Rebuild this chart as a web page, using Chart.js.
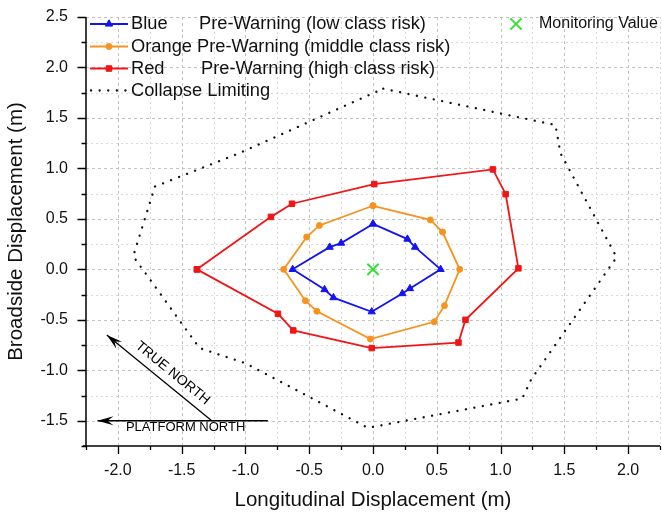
<!DOCTYPE html>
<html>
<head>
<meta charset="utf-8">
<title>Pre-warning polygons</title>
<script src="https://cdn.jsdelivr.net/npm/chart.js@4.4.1/dist/chart.umd.min.js"></script>
<style>
    html, body { margin: 0; padding: 0; background: #fff; }
    #wrap { position: relative; width: 662px; height: 517px; }
    #grid { position: absolute; left: 0; top: 0; display: block; }
    #chart { position: relative; z-index: 1; display: block; }
</style>
</head>
<body>
<div id="wrap">
    <canvas id="grid" width="662" height="517"></canvas>
    <canvas id="chart" width="662" height="517"></canvas>
</div>
<script>
// Data (metres), polygons closed on the first point
const blueX = [0, 0.27, 0.33, 0.53, 0.29, 0.23, -0.01, -0.31, -0.38, -0.63, -0.34, -0.25, 0];
const blueY = [0.45, 0.30, 0.22, 0.0, -0.19, -0.24, -0.42, -0.28, -0.20, 0.0, 0.22, 0.26, 0.45];

const orangeX = [0, 0.45, 0.545, 0.68, 0.56, 0.48, -0.02, -0.44, -0.53, -0.70, -0.52, -0.42, 0];
const orangeY = [0.63, 0.49, 0.37, 0.0, -0.36, -0.52, -0.69, -0.415, -0.31, 0.0, 0.32, 0.435, 0.63];

const redX = [-1.38, -0.80, -0.635, 0.01, 0.94, 1.04, 1.14, 0.725, 0.67, -0.01, -0.625, -0.745, -1.38];
const redY = [0.0, 0.52, 0.65, 0.845, 0.99, 0.745, 0.01, -0.50, -0.725, -0.78, -0.605, -0.44, 0.0];

const collapseX = [0.08, 1.43, 1.47, 1.91, 1.24, 1.17, -0.04, -1.0, -1.36, -1.88, -1.71, -1.05, 0.08];
const collapseY = [1.79, 1.43, 1.15, 0.12, -1.09, -1.28, -1.57, -0.93, -0.78, 0.13, 0.82, 1.15, 1.79];

const monitorX = [0];
const monitorY = [0];

// Axes
const xRange = [-2.25, 2.25];
const yRange = [-1.75, 2.5];
const minorStep = 0.25;
const majorStep = 0.5;

const FONT = "'Liberation Sans', Arial, sans-serif";
const INK = '#111';
const BLUE = '#1414f0';
const ORANGE = '#f8921e';
const RED = '#f01616';
const GREEN = '#36e036';

function toPoints(xs, ys) {
    return xs.map((x, i) => ({ x: x, y: ys[i] }));
}

function isMajor(v) {
    return Math.abs(v / majorStep - Math.round(v / majorStep)) < 1e-6;
}

function tickLabel(v) {
    return isMajor(v) ? (Math.abs(v) < 1e-9 ? 0 : v).toFixed(1) : '';
}

// Compass arrows, in data units
const trueNorth = { tail: [-1.264, -1.5], tip: [-2.087, -0.651], label: [-1.571, -1.028] };
const platformNorth = { tail: [-0.825, -1.5], tip: [-2.16, -1.5], label: [-1.469, -1.567] };

function arrowHead(ctx, tx, ty, fx, fy) {
    const dx = tx - fx, dy = ty - fy;
    const len = Math.hypot(dx, dy);
    const ux = dx / len, uy = dy / len;
    const nx = -uy, ny = ux;
    ctx.beginPath();
    ctx.moveTo(tx, ty);
    ctx.lineTo(tx - 16 * ux + 4.5 * nx, ty - 16 * uy + 4.5 * ny);
    ctx.lineTo(tx - 10 * ux, ty - 10 * uy);
    ctx.lineTo(tx - 16 * ux - 4.5 * nx, ty - 16 * uy - 4.5 * ny);
    ctx.closePath();
    ctx.fill();
}

// Dashed grid at every minor step, from the chart's own scales
function paintGrid(ctx, chart) {
    const a = chart.chartArea, x = chart.scales.x, y = chart.scales.y;
    ctx.save();
    ctx.lineWidth = 1;
    x.ticks.forEach(t => {
        const p = Math.round(x.getPixelForValue(t.value)) + 0.5;
        if (p <= a.left + 1) return;
        const major = isMajor(t.value);
        ctx.strokeStyle = major ? '#c2c2c2' : '#d9d9d9';
        ctx.setLineDash(major ? [3, 3] : [2, 3]);
        ctx.beginPath();
        ctx.moveTo(p, a.top);
        ctx.lineTo(p, a.bottom);
        ctx.stroke();
    });
    y.ticks.forEach(t => {
        const p = Math.round(y.getPixelForValue(t.value)) + 0.5;
        if (p >= a.bottom - 1) return;
        const major = isMajor(t.value);
        ctx.strokeStyle = major ? '#c2c2c2' : '#d9d9d9';
        ctx.setLineDash(major ? [3, 3] : [2, 3]);
        ctx.beginPath();
        ctx.moveTo(a.left, p);
        ctx.lineTo(a.right, p);
        ctx.stroke();
    });
    ctx.restore();
}

const dashedGrid = {
    id: 'dashedGrid',
    beforeDatasetsDraw(chart) {
        paintGrid(chart.ctx, chart);
    }
};

// Axis lines, tick marks, legend and compass
const decor = {
    id: 'decor',
    afterDraw(chart) {
        const { ctx, chartArea: a, scales: { x, y } } = chart;
        ctx.save();

        // axes
        ctx.strokeStyle = '#000';
        ctx.lineWidth = 1.5;
        ctx.beginPath();
        ctx.moveTo(a.left, a.top);
        ctx.lineTo(a.left, a.bottom);
        ctx.moveTo(a.left - 3, a.bottom);
        ctx.lineTo(a.right, a.bottom);
        ctx.stroke();

        ctx.lineWidth = 1.3;
        ctx.beginPath();
        x.ticks.forEach(t => {
            const p = Math.round(x.getPixelForValue(t.value)) + 0.5;
            const len = isMajor(t.value) ? 8 : 4;
            ctx.moveTo(p, a.bottom);
            ctx.lineTo(p, a.bottom + len);
        });
        y.ticks.forEach(t => {
            const p = Math.round(y.getPixelForValue(t.value)) + 0.5;
            const len = isMajor(t.value) ? 8.5 : 4.5;
            ctx.moveTo(a.left, p);
            ctx.lineTo(a.left - len, p);
        });
        ctx.stroke();

        // legend
        const rows = [
            { color: BLUE, style: 'triangle', r: 4.2, y: 24 },
            { color: ORANGE, style: 'circle', r: 3, y: 46.5 },
            { color: RED, style: 'rect', r: 3.9, y: 68.5 }
        ];
        rows.forEach(row => {
            ctx.strokeStyle = row.color;
            ctx.fillStyle = row.color;
            ctx.lineWidth = 1.8;
            ctx.beginPath();
            ctx.moveTo(90, row.y);
            ctx.lineTo(128, row.y);
            ctx.stroke();
            ctx.lineWidth = 1;
            Chart.helpers.drawPoint(ctx, { pointStyle: row.style, radius: row.r, rotation: 0, borderWidth: 1 }, 109, row.y);
        });
        ctx.save();
        ctx.strokeStyle = '#111';
        ctx.lineWidth = 2.3;
        ctx.lineCap = 'round';
        ctx.setLineDash([0.1, 8.5]);
        ctx.beginPath();
        ctx.moveTo(91, 90.5);
        ctx.lineTo(128, 90.5);
        ctx.stroke();
        ctx.restore();

        ctx.fillStyle = INK;
        ctx.textBaseline = 'middle';
        ctx.textAlign = 'left';
        ctx.font = '18.3px ' + FONT;
        ctx.fillText('Blue', 131, 24);
        ctx.fillText('Pre-Warning (low class risk)', 199, 24);
        ctx.fillText('Orange Pre-Warning (middle class risk)', 131, 46.5);
        ctx.fillText('Red', 131, 68.5);
        ctx.fillText('Pre-Warning (high class risk)', 201, 68.5);
        ctx.fillText('Collapse Limiting', 131, 90.5);

        ctx.strokeStyle = GREEN;
        ctx.lineWidth = 2;
        Chart.helpers.drawPoint(ctx, { pointStyle: 'crossRot', radius: 8, rotation: 0, borderWidth: 2 }, 516, 24);
        ctx.fillStyle = INK;
        ctx.font = '16px ' + FONT;
        ctx.fillText('Monitoring Value', 539, 24);

        // compass arrows
        ctx.strokeStyle = '#000';
        ctx.fillStyle = '#000';
        ctx.lineWidth = 1.3;
        [trueNorth, platformNorth].forEach(arr => {
            const fx = x.getPixelForValue(arr.tail[0]), fy = y.getPixelForValue(arr.tail[1]);
            const tx = x.getPixelForValue(arr.tip[0]), ty = y.getPixelForValue(arr.tip[1]);
            ctx.beginPath();
            ctx.moveTo(fx, fy);
            ctx.lineTo(tx, ty);
            ctx.stroke();
            arrowHead(ctx, tx, ty, fx, fy);
        });

        ctx.textAlign = 'center';
        ctx.font = '14px ' + FONT;
        const tnx = x.getPixelForValue(trueNorth.label[0]);
        const tny = y.getPixelForValue(trueNorth.label[1]);
        const ang = Math.atan2(
            y.getPixelForValue(trueNorth.tail[1]) - y.getPixelForValue(trueNorth.tip[1]),
            x.getPixelForValue(trueNorth.tail[0]) - x.getPixelForValue(trueNorth.tip[0]));
        ctx.save();
        ctx.translate(tnx, tny);
        ctx.rotate(ang);
        ctx.fillText('TRUE NORTH', 0, 0);
        ctx.restore();

        ctx.font = '13px ' + FONT;
        ctx.fillText('PLATFORM NORTH', x.getPixelForValue(platformNorth.label[0]), y.getPixelForValue(platformNorth.label[1]));

        ctx.restore();
    }
};

const lineSet = (label, xs, ys, color, style, r) => ({
    label: label,
    data: toPoints(xs, ys),
    showLine: true,
    tension: 0,
    borderColor: color,
    backgroundColor: color,
    borderWidth: 1.8,
    pointStyle: style,
    pointRadius: r,
    pointBorderWidth: 1,
    pointBackgroundColor: color,
    pointBorderColor: color
});

const hiddenGrid = { color: 'rgba(0,0,0,0)', lineWidth: 1, tickLength: 8, tickColor: 'rgba(0,0,0,0)' };

const chart = new Chart(document.getElementById('chart'), {
    type: 'scatter',
    data: {
        datasets: [
            {
                label: 'Monitoring Value',
                data: toPoints(monitorX, monitorY),
                showLine: false,
                pointStyle: 'crossRot',
                pointRadius: 8,
                pointBorderWidth: 2,
                pointBorderColor: GREEN,
                borderColor: GREEN
            },
            lineSet('Blue Pre-Warning (low class risk)', blueX, blueY, BLUE, 'triangle', 4.2),
            lineSet('Orange Pre-Warning (middle class risk)', orangeX, orangeY, ORANGE, 'circle', 3),
            lineSet('Red Pre-Warning (high class risk)', redX, redY, RED, 'rect', 3.9),
            {
                label: 'Collapse Limiting',
                data: toPoints(collapseX, collapseY),
                showLine: true,
                tension: 0,
                borderColor: '#111',
                borderWidth: 2.3,
                borderDash: [0.1, 8.5],
                borderCapStyle: 'round',
                pointRadius: 0
            }
        ]
    },
    options: {
        responsive: false,
        devicePixelRatio: 1,
        animation: false,
        layout: { autoPadding: false, padding: { top: 17, right: 2, left: 0, bottom: 0 } },
        plugins: {
            legend: { display: false },
            tooltip: { enabled: false }
        },
        scales: {
            x: {
                type: 'linear',
                min: xRange[0],
                max: xRange[1],
                afterFit: s => { s.height = 71; s.paddingLeft = 0; s.paddingRight = 0; },
                ticks: {
                    stepSize: minorStep,
                    autoSkip: false,
                    maxRotation: 0,
                    padding: 7,
                    color: INK,
                    font: { family: FONT, size: 16 },
                    callback: tickLabel
                },
                grid: hiddenGrid,
                border: { display: false },
                title: {
                    display: true,
                    text: 'Longitudinal Displacement (m)',
                    color: INK,
                    font: { family: FONT, size: 20.5 },
                    padding: { top: 0, bottom: 4 }
                }
            },
            y: {
                type: 'linear',
                min: yRange[0],
                max: yRange[1],
                afterFit: s => { s.width = 86; s.paddingTop = 0; s.paddingBottom = 0; },
                ticks: {
                    stepSize: minorStep,
                    autoSkip: false,
                    padding: 10,
                    color: INK,
                    font: { family: FONT, size: 16 },
                    callback: tickLabel
                },
                grid: hiddenGrid,
                border: { display: false },
                title: {
                    display: true,
                    text: 'Broadside Displacement (m)',
                    color: INK,
                    font: { family: FONT, size: 20.5 },
                    padding: { top: 4, bottom: 0 }
                }
            }
        }
    },
    plugins: [dashedGrid, decor]
});

// same grid again on the canvas underneath, so it always sits behind the marks
paintGrid(document.getElementById('grid').getContext('2d'), chart);
</script>
</body>
</html>
